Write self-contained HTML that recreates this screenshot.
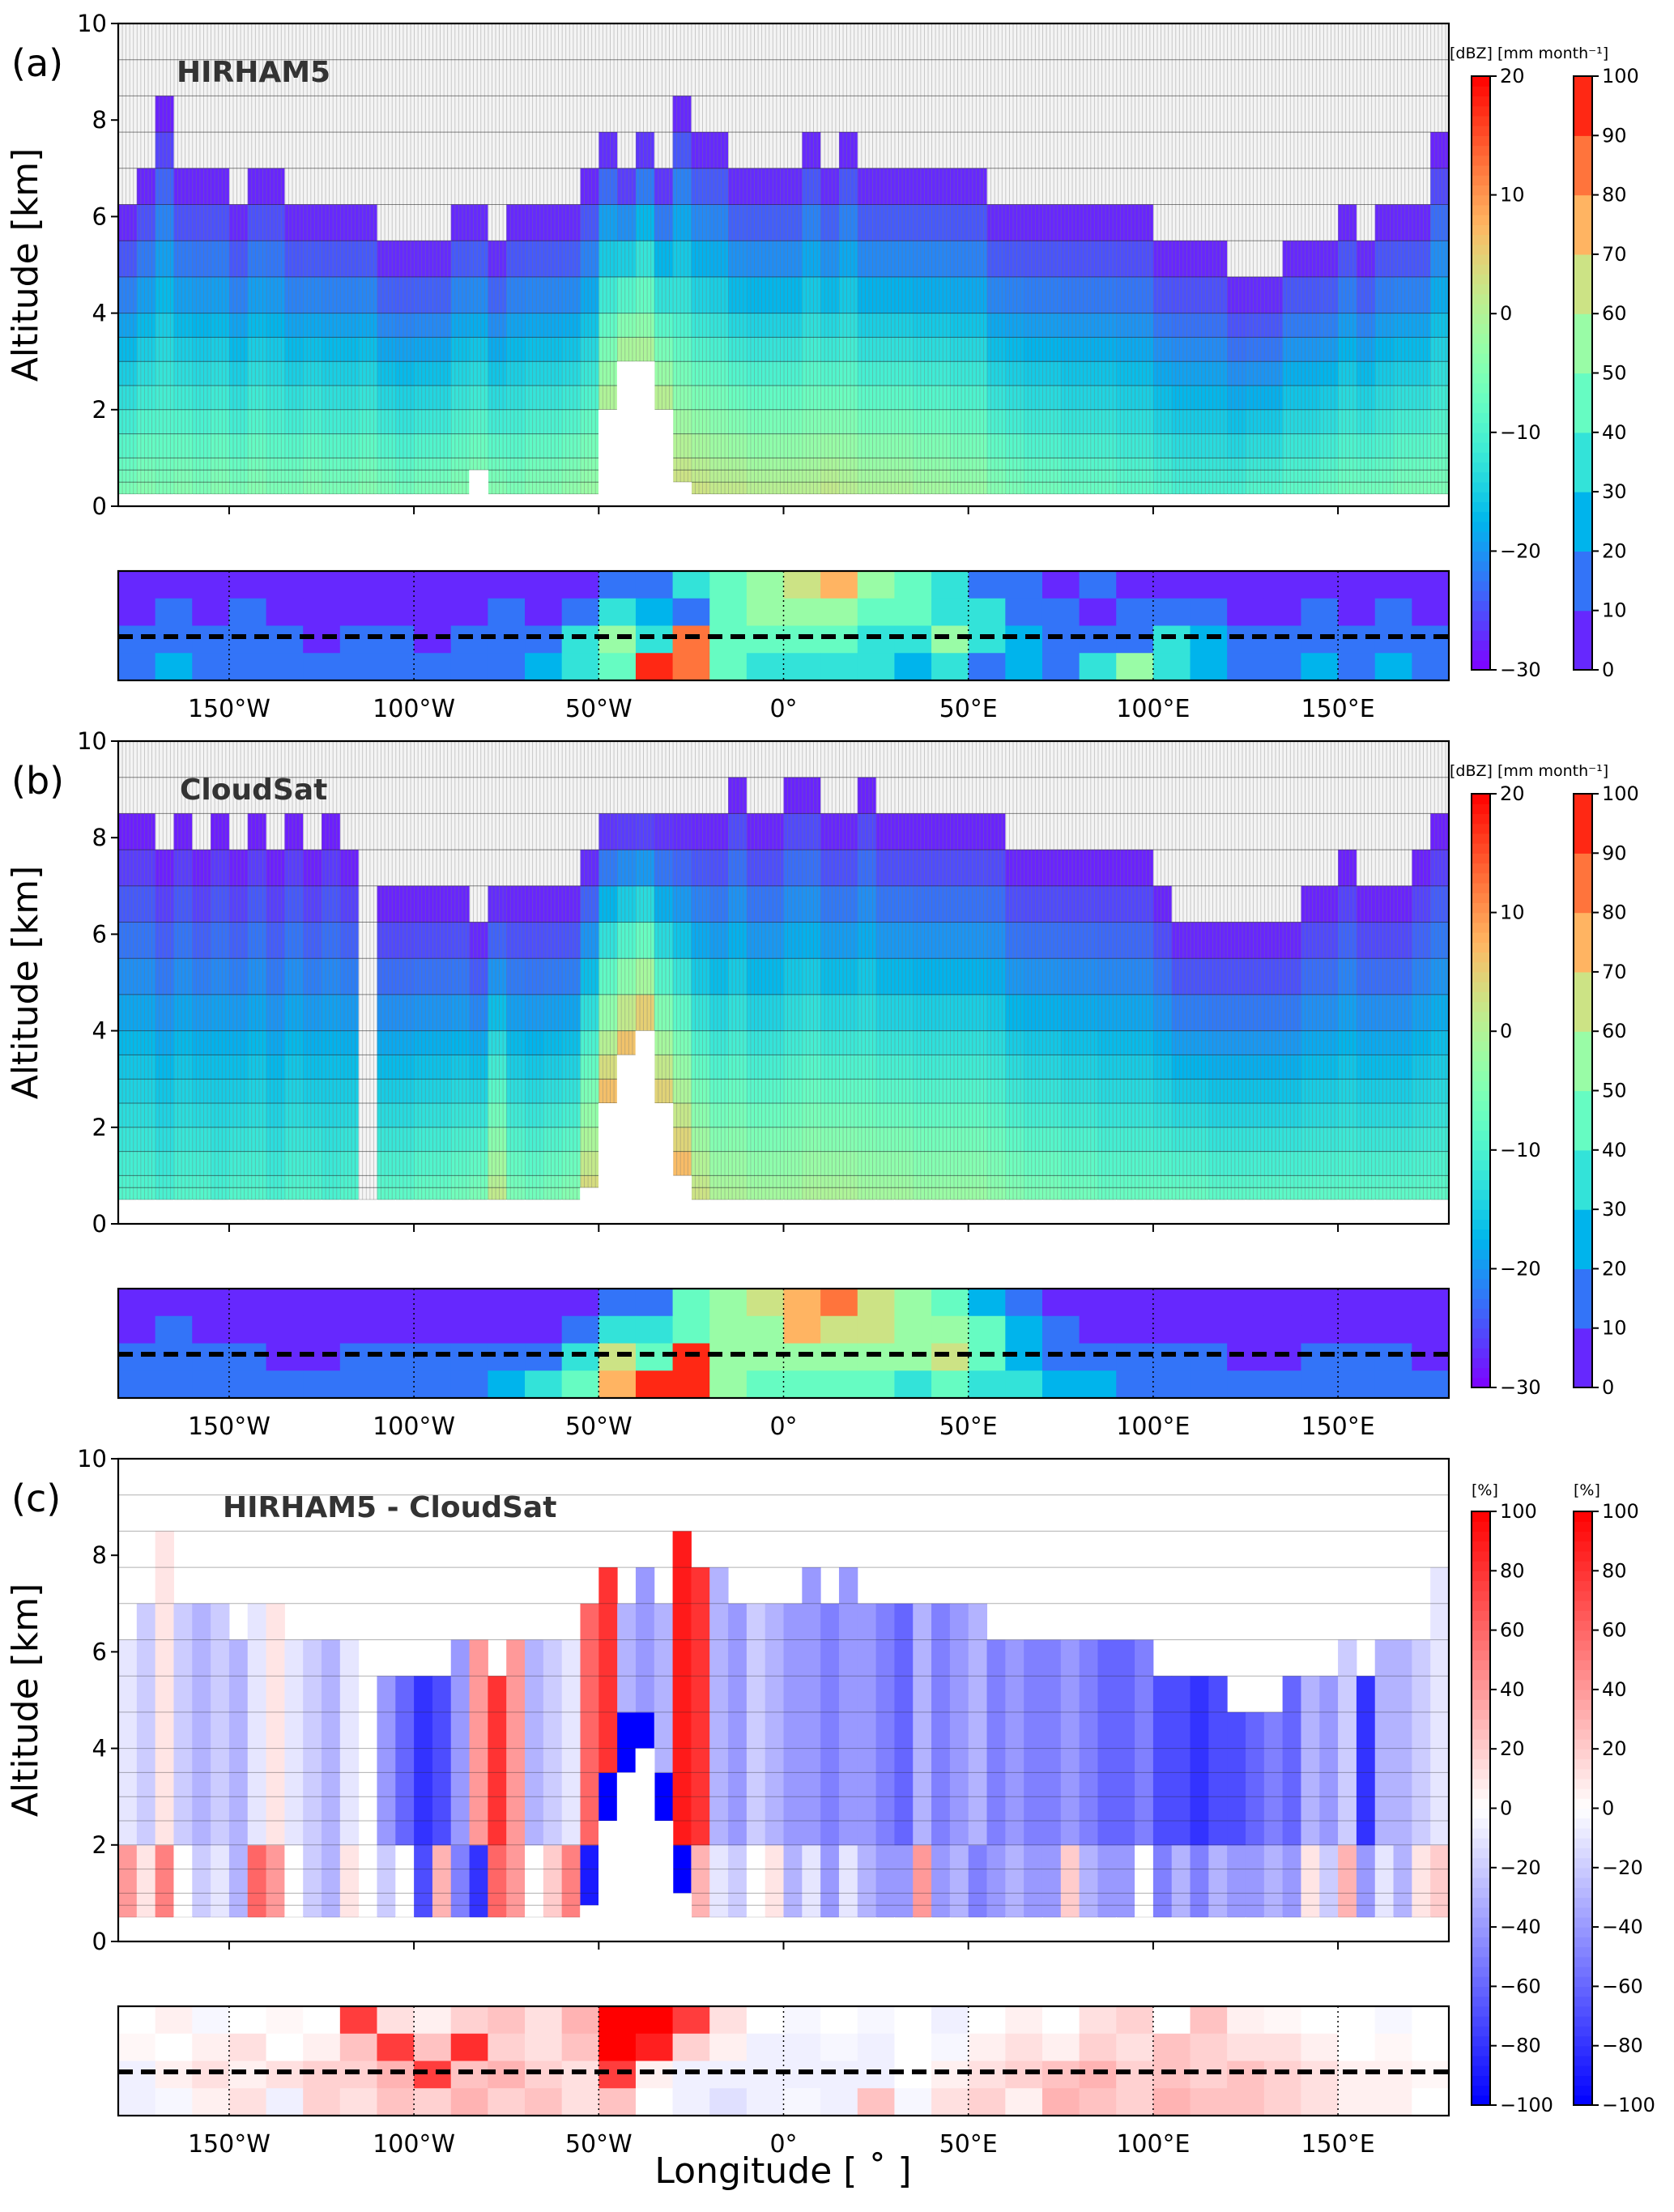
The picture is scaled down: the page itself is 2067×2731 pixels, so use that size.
<!DOCTYPE html>
<html><head><meta charset="utf-8"><style>
html,body{margin:0;padding:0;background:#fff}
svg text{font-family:"DejaVu Sans","Liberation Sans",sans-serif}
</style></head><body>
<svg id="fig" xmlns="http://www.w3.org/2000/svg" width="2067" height="2726" viewBox="0 0 2067 2726">
<defs>
<pattern id="vlines" width="4.564" height="10" patternUnits="userSpaceOnUse" x="146">
<line x1="0.5" y1="0" x2="0.5" y2="10" stroke="#777" stroke-width="0.8"/>
</pattern>
</defs>
</svg>
<script>
// ---------------- data ----------------
const lonBins = []; for (let l = -180; l < 180; l += 5) lonBins.push(l);
const rowEdges = [0.25,0.5,0.75,1,1.5,2,2.5,3,3.5,4,4.75,5.5,6.25,7,7.75,8.5,9.25,10];
const yTicks = [0,2,4,6,8,10];
const lonTicks = [-150,-100,-50,0,50,100,150];
const lonTickLabels = ["150°W","100°W","50°W","0°","50°E","100°E","150°E"];
const dbzTicks = [-30,-20,-10,0,10,20];
const precipTicks = [0,10,20,30,40,50,60,70,80,90,100];
const diffTicks = [-100,-80,-60,-40,-20,0,20,40,60,80,100];

const topA = [6.25,7,8.5,7,7,7,6.25,7,7,6.25,6.25,6.25,6.25,6.25,5.5,5.5,5.5,5.5,6.25,6.25,5.5,6.25,6.25,6.25,6.25,7,7.75,7,7.75,7,8.5,7.75,7.75,7,7,7,7,7.75,7,7.75,7,7,7,7,7,7,7,6.25,6.25,6.25,6.25,6.25,6.25,6.25,6.25,6.25,5.5,5.5,5.5,5.5,4.75,4.75,4.75,5.5,5.5,5.5,6.25,5.5,6.25,6.25,6.25,7.75];
const lowA = [-5,-4,-5,-4,-5,-4,-5,-4,-5,-5,-4,-5,-5,-4,-5,-6,-5,-5,-4,-5,-4,-5,-4,-4,-3,-2,1,1,1,2,3,3,2,2,1,1,1,1,2,1,0,0,0,-1,-1,-2,-2,-4,-5,-6,-6,-7,-7,-7,-8,-8,-9,-10,-10,-10,-10,-9,-9,-8,-8,-7,-6,-6,-6,-5,-5,-5];
const surfA = [0.25,0.25,0.25,0.25,0.25,0.25,0.25,0.25,0.25,0.25,0.25,0.25,0.25,0.25,0.25,0.25,0.25,0.25,0.25,0.75,0.25,0.25,0.25,0.25,0.25,0.25,2,3,3,2,0.5,0.25,0.25,0.25,0.25,0.25,0.25,0.25,0.25,0.25,0.25,0.25,0.25,0.25,0.25,0.25,0.25,0.25,0.25,0.25,0.25,0.25,0.25,0.25,0.25,0.25,0.25,0.25,0.25,0.25,0.25,0.25,0.25,0.25,0.25,0.25,0.25,0.25,0.25,0.25,0.25,0.25];

const topB = [8.5,8.5,7.75,8.5,7.75,8.5,7.75,8.5,7.75,8.5,7.75,8.5,7.75,0,7,7,7,7,7,6.25,7,7,7,7,7,7.75,8.5,8.5,8.5,8.5,8.5,8.5,8.5,9.25,8.5,8.5,9.25,9.25,8.5,8.5,9.25,8.5,8.5,8.5,8.5,8.5,8.5,8.5,7.75,7.75,7.75,7.75,7.75,7.75,7.75,7.75,7,6.25,6.25,6.25,6.25,6.25,6.25,6.25,7,7,7.75,7,7,7,7.75,8.5];
const lowB = [-9,-9,-10,-9,-9,-10,-9,-9,-10,-9,-9,-10,-9,-9,-8,-8,-7,-7,-6,-5,2,-5,-6,-5,-4,4,8,8,8,6,8,3,0,0,-1,-1,-1,0,0,0,-1,-1,-1,-2,-2,-2,-2,-3,-4,-5,-5,-6,-6,-7,-7,-7,-7,-7,-7,-8,-8,-8,-8,-8,-8,-8,-8,-8,-8,-8,-8,-8];
const surfB = [0.5,0.5,0.5,0.5,0.5,0.5,0.5,0.5,0.5,0.5,0.5,0.5,0.5,0.5,0.5,0.5,0.5,0.5,0.5,0.5,0.5,0.5,0.5,0.5,0.5,0.75,2.5,3.5,4,2.5,1,0.5,0.5,0.5,0.5,0.5,0.5,0.5,0.5,0.5,0.5,0.5,0.5,0.5,0.5,0.5,0.5,0.5,0.5,0.5,0.5,0.5,0.5,0.5,0.5,0.5,0.5,0.5,0.5,0.5,0.5,0.5,0.5,0.5,0.5,0.5,0.5,0.5,0.5,0.5,0.5,0.5];

const topC = [6.25,7,8.5,7,7,7,6.25,7,7,6.25,6.25,6.25,6.25,0,5.5,5.5,5.5,5.5,6.25,6.25,5.5,6.25,6.25,6.25,6.25,7,7.75,7,7.75,7,8.5,7.75,7.75,7,7,7,7,7.75,7,7.75,7,7,7,7,7,7,7,6.25,6.25,6.25,6.25,6.25,6.25,6.25,6.25,6.25,5.5,5.5,5.5,5.5,4.75,4.75,4.75,5.5,5.5,5.5,6.25,5.5,6.25,6.25,6.25,7.75];
const diffLow = [40,10,50,0,-20,-10,-30,60,40,0,-20,-30,10,0,-20,0,-70,30,-50,-80,60,40,0,20,50,-90,-100,-100,-100,-100,-100,30,-10,-20,0,10,-30,-10,-40,-10,-30,-40,-40,40,-40,-30,-50,-40,-30,-40,-40,20,-30,-40,-40,0,-50,-30,-50,-30,-40,-40,-30,-40,10,-20,30,-40,-10,-30,10,20];
const diffHigh = [-10,-20,10,-20,-30,-20,-30,-10,10,-10,-20,-30,-10,0,-40,-60,-80,-70,-40,40,80,40,-30,-20,-10,60,80,-30,-40,-30,90,80,-30,-40,-20,-30,-40,-40,-50,-40,-40,-50,-60,-30,-50,-40,-30,-50,-40,-50,-50,-40,-50,-60,-60,-50,-70,-70,-80,-70,-70,-60,-50,-60,-30,-40,-20,-80,-30,-30,-20,-10];

const mapA = [
[5,5,5,5,5,5,5,5,5,5,5,5,5,10,15,30,45,55,60,70,50,45,30,15,10,5,10,5,5,5,5,5,5,5,5,5],
[5,10,5,10,5,5,5,5,5,5,10,5,15,30,25,10,40,50,55,50,45,40,35,30,15,10,5,10,15,10,5,5,10,5,10,5],
[10,15,10,15,10,5,10,10,5,10,15,15,30,50,35,80,45,40,45,40,35,30,50,35,25,15,10,15,30,25,10,10,15,10,15,10],
[15,25,15,10,15,10,10,15,10,10,15,25,30,45,95,85,40,30,35,30,30,25,30,15,25,15,30,55,30,25,15,15,25,15,25,15]];
const mapB = [
[5,5,5,5,5,5,5,5,5,5,5,5,5,10,15,40,50,60,70,80,60,55,40,25,10,5,5,5,5,5,5,5,5,5,5,5],
[5,10,5,5,5,5,5,5,5,5,5,5,10,30,30,40,50,55,70,65,60,55,50,40,25,10,5,5,5,5,5,5,5,5,5,5],
[10,15,10,10,5,5,10,10,10,10,15,15,30,60,40,90,55,50,55,50,55,50,60,40,25,15,10,10,10,10,5,5,10,10,10,5],
[15,15,15,10,10,10,15,15,15,15,25,30,40,70,95,90,55,45,45,40,40,35,40,35,30,25,25,15,15,15,10,10,15,15,15,10]];
const mapC = [
[0,10,-5,0,5,0,60,20,10,30,40,20,50,100,100,60,20,0,-5,0,-5,0,-10,0,10,0,20,30,0,40,10,5,0,0,-5,0],
[5,0,10,20,0,10,40,60,40,70,30,20,40,100,80,30,10,-10,-10,-5,-10,0,-5,10,20,10,30,20,40,30,20,20,10,0,5,0],
[-10,10,20,10,20,30,30,50,60,40,50,30,20,60,10,-10,-10,-10,-10,-10,-10,0,10,20,30,40,50,30,40,30,40,30,20,10,10,5],
[-10,-5,10,20,-10,30,20,40,30,50,30,40,20,40,0,-10,-20,-10,-5,-10,40,-5,20,30,10,50,40,30,50,40,40,30,20,10,10,0]];

// ---------------- layout ----------------
const X0 = 146, X1 = 1789;
const PT = [29, 915, 1801], PH = 596;
const MT = [705, 1591, 2477], MH = 135;
const CT = [94, 980, 1866], CH = 733;
const CB1 = 1817, CB2 = 1943, CBW = 23;
const NS = 'http://www.w3.org/2000/svg';
const svg = document.getElementById('fig');

function el(tag, attrs, parent, text) {
  const e = document.createElementNS(NS, tag);
  for (const k in attrs) e.setAttribute(k, attrs[k]);
  if (text !== undefined) e.textContent = text;
  (parent || svg).appendChild(e);
  return e;
}
function clamp(v){return Math.max(0,Math.min(1,v));}
function rgb(r,g,b){return 'rgb('+Math.round(clamp(r)*255)+','+Math.round(clamp(g)*255)+','+Math.round(clamp(b)*255)+')';}
function rainbow(x){x=clamp(x);return rgb(Math.abs(2*x-0.5),Math.sin(Math.PI*x),Math.cos(Math.PI*x/2));}
function bwr(x){x=clamp(x);return x<0.5?rgb(2*x,2*x,1):rgb(1,2-2*x,2-2*x);}
function xLon(l){return X0 + (l + 180) / 360 * (X1 - X0);}
function yAlt(p, z){return PT[p] + PH - z / 10 * PH;}

function drawPanel(p, tops, surfs, cellColor, grayBg) {
  const g = el('g', {}, svg);
  
  
  const w = (X1 - X0) / lonBins.length;
  lonBins.forEach((lon, i) => {
    const x = xLon(lon);
    const surf = surfs[i], top = tops[i];
    if (grayBg) {
      const bg = el('rect', {x: x, y: yAlt(p, 10), width: w + 0.5, height: yAlt(p, Math.max(top, surf)) - yAlt(p, 10), fill: '#f4f4f4'}, g);
      
      
    }
    for (let r = 0; r < rowEdges.length - 1; r++) {
      const z0 = rowEdges[r], z1 = rowEdges[r + 1];
      if (z0 < surf || z1 > top) continue;
      const c = el('rect', {x: x, y: yAlt(p, z1), width: w + 0.5, height: yAlt(p, z0) - yAlt(p, z1) + 0.5, fill: cellColor(i, (z0 + z1) / 2, surf, top)}, g);
      
      
    }
  });
  if (grayBg) {
    const v = el('rect', {x: X0, y: yAlt(p, 10), width: X1 - X0, height: yAlt(p, 0.25) - yAlt(p, 10), fill: 'url(#vlines)', opacity: 0.45}, g);
    
    
  }
  rowEdges.forEach(z => {
    if (z < 0.5 && !grayBg) return;
    const hl = el('line', {x1: X0, x2: X1, y1: yAlt(p, z), y2: yAlt(p, z), stroke: '#222', 'stroke-width': 1, opacity: grayBg ? 0.55 : 0.35}, g);
    
    
  });
  lonBins.forEach((lon, i) => {
    const x = xLon(lon);
    const t = el('rect', {x: x - 0.3, y: yAlt(p, surfs[i]), width: w + 1, height: yAlt(p, 0) - yAlt(p, surfs[i]), fill: '#fff'}, g);
    
    
  });
  const fr = el('rect', {x: X0, y: PT[p], width: X1 - X0, height: PH, fill: 'none', stroke: '#000', 'stroke-width': 2.2}, g);
  
  
  yTicks.forEach(t => {
    const y = yAlt(p, t);
    const tl = el('line', {x1: X0 - 9, x2: X0, y1: y, y2: y, stroke: '#000', 'stroke-width': 2}, g);
    
    
    const tx = el('text', {x: X0 - 14, y: y + 10, 'text-anchor': 'end', 'font-size': 29}, g, String(t));
    
    
  });
  lonTicks.forEach(t => {
    const x = xLon(t);
    const tk = el('line', {x1: x, x2: x, y1: PT[p] + PH, y2: PT[p] + PH + 10, stroke: '#000', 'stroke-width': 2}, g);
    
    
  });
  const yl = el('text', {x: 0, y: 0, 'text-anchor': 'middle', 'font-size': 44, transform: 'translate(46,' + (PT[p] + PH / 2) + ') rotate(-90)'}, g, 'Altitude [km]');
  
  
  const pl = el('text', {x: 14, y: PT[p] + 65, 'font-size': 46}, g, '(' + 'abc'[p] + ')');
  
  
}

function drawMap(p, grid, colorFn) {
  const g = el('g', {}, svg);
  
  
  const nr = grid.length, nc = grid[0].length;
  const cw = (X1 - X0) / nc, ch = MH / nr;
  grid.forEach((row, r) => row.forEach((v, c) => {
    const cell = el('rect', {x: X0 + c * cw, y: MT[p] + r * ch, width: cw + 0.5, height: ch + 0.5, fill: colorFn(v)}, g);
    
    
  }));
  lonTicks.forEach((t, k) => {
    const x = xLon(t);
    const dl = el('line', {x1: x, x2: x, y1: MT[p], y2: MT[p] + MH, stroke: '#000', 'stroke-width': 1.5, 'stroke-dasharray': '2,4'}, g);
    
    
    const lb = el('text', {x: x, y: MT[p] + MH + 45, 'text-anchor': 'middle', 'font-size': 30}, g, lonTickLabels[k]);
    
    
  });
  const dash = el('line', {x1: X0, x2: X1, y1: MT[p] + MH * 0.6, y2: MT[p] + MH * 0.6, stroke: '#000', 'stroke-width': 6, 'stroke-dasharray': '18,10'}, g);
  
  
  const fr = el('rect', {x: X0, y: MT[p], width: X1 - X0, height: MH, fill: 'none', stroke: '#000', 'stroke-width': 2.2}, g);
  
  
}

function drawColorbar(p, x, ticks, lo, hi, fn, discrete, label) {
  const g = el('g', {}, svg);
  
  
  const n = discrete ? 10 : 60;
  for (let k = 0; k < n; k++) {
    const y = CT[p] + CH - (k + 1) / n * CH;
    const r = el('rect', {x: x, y: y, width: CBW, height: CH / n + 0.6, fill: fn((k + 0.5) / n)}, g);
    
    
  }
  const fr = el('rect', {x: x, y: CT[p], width: CBW, height: CH, fill: 'none', stroke: '#000', 'stroke-width': 2}, g);
  
  
  ticks.forEach(t => {
    const y = CT[p] + CH - (t - lo) / (hi - lo) * CH;
    const tl = el('line', {x1: x + CBW, x2: x + CBW + 8, y1: y, y2: y, stroke: '#000', 'stroke-width': 2}, g);
    
    
    const tx = el('text', {x: x + CBW + 12, y: y + 8, 'font-size': 24}, g, (t < 0 ? '\u2212' + (-t) : String(t)));
    
    
  });
  if (label) {
    const lb = el('text', {x: x, y: CT[p] - 20, 'font-size': 19}, g, label);
    
    
  }
}

// ---------------- draw ----------------
const dbz = v => rainbow((v + 30) / 50);
drawPanel(0, topA, surfA, (i, z, s, t) => dbz(lowA[i] + (-29 - lowA[i]) * Math.min(1, (z - s) / Math.max(0.5, t - s))), true);
drawPanel(1, topB, surfB, (i, z, s, t) => dbz(lowB[i] + (-29 - lowB[i]) * Math.min(1, (z - s) / Math.max(0.5, t - s))), true);
drawPanel(2, topC, surfB, (i, z, s, t) => bwr(((z < Math.max(2, s + 1) ? diffLow[i] : diffHigh[i]) + 100) / 200), false);

const precipColor = v => rainbow((Math.min(9, Math.floor(v / 10)) + 0.5) / 10);
drawMap(0, mapA, precipColor);
drawMap(1, mapB, precipColor);
drawMap(2, mapC, v => bwr((v * 0.6 + 100) / 200 + (Math.abs(v) > 50 ? 0.2 * Math.sign(v) : 0)));

for (let p = 0; p < 2; p++) {
  drawColorbar(p, CB1, dbzTicks, -30, 20, rainbow, false, null);
  drawColorbar(p, CB2, precipTicks, 0, 100, rainbow, true, null);
  const ul = el('text', {x: 1790, y: CT[p] - 22, 'font-size': 19}, svg, '[dBZ] [mm month\u207B\u00B9]');
  
  
}
drawColorbar(2, CB1, diffTicks, -100, 100, bwr, false, '[%]');
drawColorbar(2, CB2, diffTicks, -100, 100, bwr, false, '[%]');

const titles = ['HIRHAM5', 'CloudSat', 'HIRHAM5 - CloudSat'];
const tx0 = [218, 222, 275];
titles.forEach((t, p) => {
  const e = el('text', {x: tx0[p], y: PT[p] + 72, 'font-size': 36, 'font-weight': 'bold', fill: '#333'}, svg, t);
  
  
});
const xl = el('text', {x: 967, y: 2695, 'text-anchor': 'middle', 'font-size': 44}, svg, 'Longitude [ \u02DA ]');


</script>
</body></html>
